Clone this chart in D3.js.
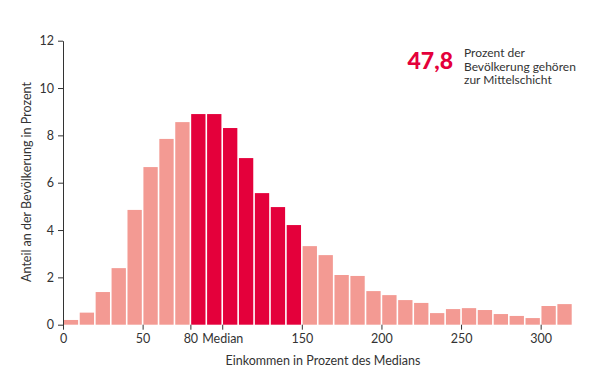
<!DOCTYPE html>
<html>
<head>
<meta charset="utf-8">
<script src="https://cdn.jsdelivr.net/npm/d3@7"></script>
<style>
  body { margin: 0; background: #fff; }
  text { font-family: "Source Sans Pro", Lato, "Open Sans", sans-serif; fill: #333; }
</style>
</head>
<body>
<svg id="chart" width="605" height="379"></svg>
<script>
// income bins (lower edge, % of median), width 10 each
const binStarts = d3.range(0, 320, 10);
// share of population per bin
const shares = [0.2, 0.51, 1.38, 2.39, 4.85, 6.66, 7.85, 8.56,
                8.9, 8.9, 8.31, 7.04, 5.56, 4.97, 4.21,
                3.32, 2.94, 2.1, 2.06, 1.42, 1.25, 1.04, 0.92, 0.49,
                0.66, 0.7, 0.62, 0.45, 0.37, 0.28, 0.79, 0.87];
// middle class band
const middleRange = [80, 150];
const xTicks = [0, 50, 80, 100, 150, 200, 250, 300];
const xTickLabels = ["0", "50", "80", "Median", "150", "200", "250", "300"];
const yTicks = [0, 2, 4, 6, 8, 10, 12];
const noteNumber = "47,8";
const noteLines = ["Prozent der", "Bevölkerung gehören", "zur Mittelschicht"];

const svg = d3.select("#chart");

const x = d3.scaleLinear().domain([0, 320]).range([63, 572.5]);
const y = d3.scaleLinear().domain([0, 12]).range([324.7, 40.7]);

// bars
svg.append("g")
    .selectAll("rect")
    .data(binStarts)
    .enter()
    .append("rect")
    .attr("x", d => x(d) + 0.8)
    .attr("width", d => x(d + 10) - x(d) - 1.6)
    .attr("y", (d, i) => y(shares[i]))
    .attr("height", (d, i) => y(0) - y(shares[i]))
    .attr("fill", d => (d >= middleRange[0] && d < middleRange[1]) ? "#e4003b" : "#f39a93");

// y axis
const yAxis = svg.append("g")
    .attr("transform", `translate(${x(0)},0)`)
    .call(d3.axisLeft(y).tickValues(yTicks).tickSize(5).tickPadding(4).tickSizeOuter(0));
yAxis.select(".domain").attr("stroke", "#333");
yAxis.selectAll(".tick line").attr("stroke", "#333");
yAxis.selectAll("text").attr("font-size", 12.5).attr("fill", "#333");

// x axis (ticks only, no base line)
const xAxis = svg.append("g")
    .attr("transform", `translate(0,${y(0)})`)
    .call(d3.axisBottom(x).tickValues(xTicks).tickFormat((d, i) => xTickLabels[i])
        .tickSize(5).tickPadding(4).tickSizeOuter(0));
xAxis.select(".domain").remove();
xAxis.selectAll(".tick line").attr("stroke", "#333");
xAxis.selectAll("text").attr("font-size", 12.5).attr("fill", "#333");

// axis titles
svg.append("text")
    .attr("x", 323)
    .attr("y", 365)
    .attr("text-anchor", "middle")
    .attr("font-size", 12.5)
    .text("Einkommen in Prozent des Medians");

svg.append("text")
    .attr("transform", "translate(31,182) rotate(-90)")
    .attr("text-anchor", "middle")
    .attr("font-size", 12.5)
    .text("Anteil an der Bevölkerung in Prozent");

// annotation
svg.append("text")
    .attr("x", 453)
    .attr("y", 69)
    .attr("text-anchor", "end")
    .attr("font-size", 23)
    .attr("font-weight", 900)
    .style("fill", "#e4003b")
    .text(noteNumber);

svg.append("g")
    .selectAll("text")
    .data(noteLines)
    .enter()
    .append("text")
    .attr("x", 464)
    .attr("y", (d, i) => 57 + i * 13.5)
    .attr("font-size", 12)
    .text(d => d);
</script>
</body>
</html>
